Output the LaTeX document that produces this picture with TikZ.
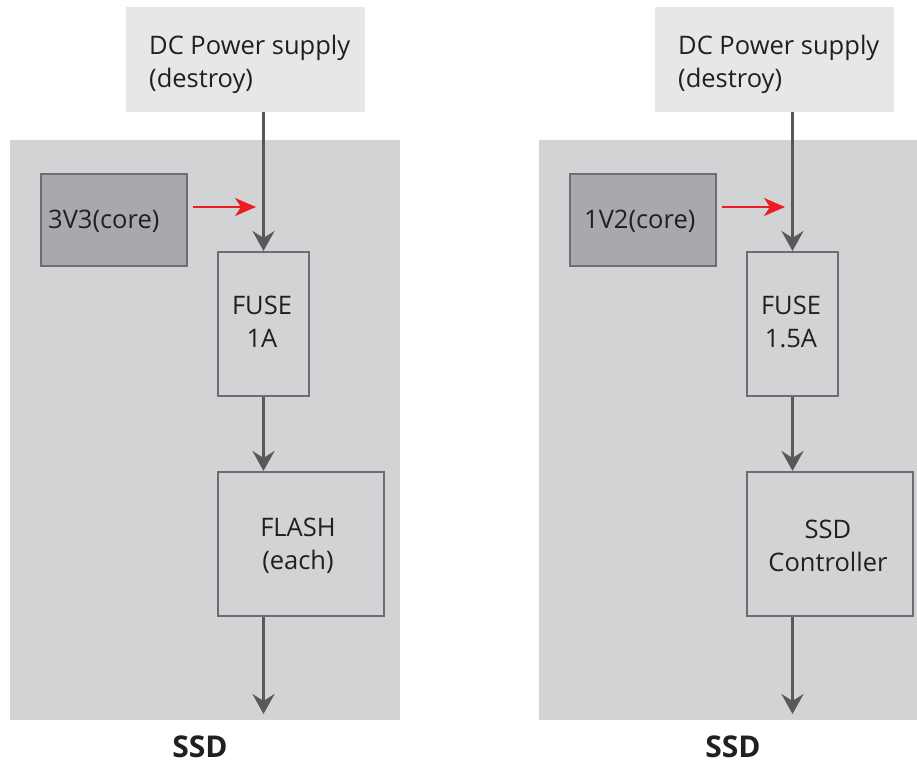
\documentclass[tikz,border=0pt]{standalone}
\usepackage{fontspec}
\setmainfont{Open Sans}
\usetikzlibrary{arrows.meta}
\definecolor{panelgray}{HTML}{D2D3D5}
\definecolor{dcgray}{HTML}{E6E7E8}
\definecolor{coregray}{HTML}{A7A9AC}
\definecolor{edgegray}{HTML}{6D6E71}
\definecolor{linegray}{HTML}{58595B}
\definecolor{txt}{HTML}{231F20}
\definecolor{redarrow}{HTML}{ED1C24}
\tikzset{
  dcbox/.style={fill=dcgray, draw=none, anchor=north west, inner sep=0pt, minimum width=239pt, minimum height=105pt},
  corebox/.style={fill=coregray, draw=edgegray, line width=2pt, anchor=north west, minimum width=146pt, minimum height=92pt, inner sep=0pt},
  blockbox/.style={fill=panelgray, draw=edgegray, line width=2pt, anchor=north west, inner sep=0pt, minimum height=144pt},
  labeltext/.style={inner sep=0pt, font=\fontsize{25.5}{33}\selectfont, text=txt},
  flow/.style={draw=linegray, line width=3pt, -{Stealth[length=20pt,width=22pt,inset=7pt]}},
  redflow/.style={draw=redarrow, line width=2pt, -{Stealth[length=21pt,width=18pt,inset=6pt]}},
  title/.style={font=\bfseries\fontsize{30}{34}\selectfont, text=txt}
}
\begin{document}
\begin{tikzpicture}[x=1pt,y=-1pt]
\useasboundingbox (0,0) rectangle (917,767);
% panels
\fill[panelgray] (10,140) rectangle (400,720);
\fill[panelgray] (539,140) rectangle (917,720);
% ---------- left ----------
\node[dcbox] (dcL) at (126,7) {};
\node[labeltext, anchor=west, align=left] (dcLt) at (149,64) {DC Power supply\\(destroy)};
\node[corebox] (coreL) at (40,173) {};
\node[labeltext, anchor=west] (coreLt) at (48,221) {3V3(core)};
\node[blockbox, minimum width=91pt] (fuseL) at (217,251) {};
\node[labeltext, align=center] (fuseLt) at (262,322) {FUSE\\1A};
\node[blockbox, minimum width=166pt] (flashL) at (217,471) {};
\node[labeltext, align=center] (flashLt) at (298,546) {FLASH\\(each)};
\coordinate (outL) at (fuseL.south |- 0,714);
\coordinate (redL) at (256,207);
\draw[flow] (dcL.south -| fuseL.north) -- (fuseL.north);
\draw[redflow] ([xshift=5pt]coreL.east |- redL) -- (redL);
\draw[flow] (fuseL.south) -- (fuseL.south |- flashL.north);
\draw[flow] (flashL.south -| fuseL.south) -- (outL);
\node[title] (ssdL) at (200,747) {SSD};
% ---------- right ----------
\node[dcbox] (dcR) at (655,7) {};
\node[labeltext, anchor=west, align=left] (dcRt) at (678,64) {DC Power supply\\(destroy)};
\node[corebox] (coreR) at (569,173) {};
\node[labeltext, anchor=west] (coreRt) at (584,221) {1V2(core)};
\node[blockbox, minimum width=91pt] (fuseR) at (746,251) {};
\node[labeltext, align=center] (fuseRt) at (791,322) {FUSE\\1.5A};
\node[blockbox, minimum width=166pt] (ctrlR) at (746,471) {};
\node[labeltext, align=center] (ctrlRt) at (828,546) {SSD\\Controller};
\coordinate (outR) at (fuseR.south |- 0,714);
\coordinate (redR) at (785,207);
\draw[flow] (dcR.south -| fuseR.north) -- (fuseR.north);
\draw[redflow] ([xshift=5pt]coreR.east |- redR) -- (redR);
\draw[flow] (fuseR.south) -- (fuseR.south |- ctrlR.north);
\draw[flow] (ctrlR.south -| fuseR.south) -- (outR);
\node[title] (ssdR) at (733,747) {SSD};
\end{tikzpicture}
\end{document}
